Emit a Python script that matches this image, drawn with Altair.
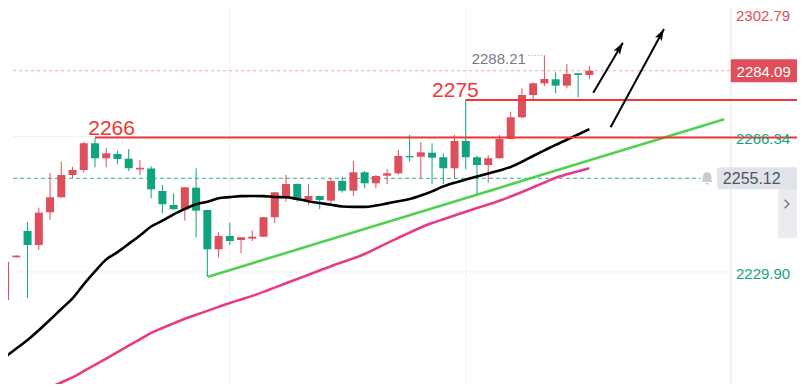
import math
import altair as alt
import pandas as pd

# ---------------- data ----------------
opens = [2222.35, 2233.85, 2240.93, 2237.16, 2245.97, 2250.01, 2256.01, 2257.36, 2264.55, 2260.51,
         2261.67, 2260.40, 2257.50, 2257.76, 2251.70, 2247.93, 2246.78, 2252.59, 2246.59, 2236.01,
         2239.59, 2238.51, 2238.86, 2239.40, 2244.62, 2250.22, 2253.59, 2249.28, 2250.36, 2249.09,
         2254.40, 2251.78, 2256.74, 2253.78, 2255.82, 2256.47, 2261.13, 2260.94, 2262.02, 2260.78,
         2257.82, 2265.17, 2260.78, 2258.70, 2260.51, 2265.70, 2271.55, 2277.55, 2280.70, 2281.78,
         2280.06, 2283.39, 2282.94]
closes = [2232.59, 2234.30, 2237.16, 2245.86, 2250.01, 2256.01, 2257.36, 2264.55, 2260.51, 2261.85,
          2260.32, 2257.82, 2257.95, 2252.16, 2248.12, 2246.78, 2252.70, 2246.40, 2236.01, 2239.59,
          2238.24, 2239.24, 2239.40, 2244.62, 2251.35, 2253.59, 2249.28, 2250.36, 2249.28, 2254.40,
          2251.78, 2256.74, 2253.78, 2255.74, 2256.47, 2261.13, 2260.78, 2262.12, 2260.67, 2257.82,
          2265.17, 2260.78, 2258.70, 2260.51, 2265.70, 2271.55, 2277.55, 2280.70, 2281.86, 2280.06,
          2283.21, 2282.94, 2284.09]
highs = [2236.09, 2234.40, 2243.36, 2247.21, 2256.55, 2259.59, 2258.17, 2264.98, 2265.90, 2263.36,
         2262.55, 2263.01, 2260.05, 2258.35, 2253.32, 2251.08, 2252.78, 2257.82, 2246.70, 2240.58,
         2243.17, 2239.32, 2241.01, 2244.70, 2251.45, 2256.01, 2253.78, 2253.59, 2250.45, 2255.12,
         2255.55, 2259.78, 2257.09, 2256.01, 2257.55, 2262.74, 2266.78, 2264.82, 2264.55, 2261.85,
         2266.78, 2276.30, 2261.21, 2261.40, 2266.78, 2273.05, 2279.36, 2280.97, 2288.21, 2283.66,
         2285.90, 2283.45, 2285.36]
lows = [2219.66, 2233.75, 2222.89, 2235.82, 2243.89, 2249.90, 2255.20, 2256.63, 2258.08, 2258.08,
        2258.97, 2257.09, 2256.01, 2249.74, 2245.70, 2246.72, 2243.71, 2239.24, 2228.55, 2233.75,
        2237.16, 2234.93, 2238.24, 2239.30, 2243.01, 2248.82, 2248.82, 2247.93, 2246.78, 2248.39,
        2251.25, 2250.36, 2252.43, 2252.43, 2253.59, 2256.01, 2259.59, 2255.20, 2253.59, 2253.59,
        2255.12, 2257.55, 2250.90, 2253.94, 2260.40, 2265.60, 2271.28, 2276.39, 2279.97, 2278.01,
        2279.36, 2276.93, 2281.78]

ma_black = [2207.01, 2209.27, 2211.56, 2214.22, 2217.02, 2219.93, 2222.78, 2226.56, 2230.05, 2233.29,
            2235.25, 2237.46, 2239.72, 2242.14, 2243.71, 2245.43, 2246.86, 2248.15, 2248.80, 2249.76,
            2250.06, 2250.33, 2250.36, 2250.33, 2250.09, 2250.03, 2249.55, 2248.96, 2248.47, 2248.01,
            2247.53, 2247.42, 2247.42, 2247.80, 2248.36, 2248.96, 2249.52, 2250.46, 2251.60, 2252.94,
            2253.94, 2254.77, 2255.61, 2256.44, 2257.25, 2258.17, 2259.57, 2261.13, 2262.63, 2264.11,
            2265.49, 2266.92, 2268.37]
pink_start = 3
ma_pink = [2197.48, 2198.80, 2200.14, 2201.51, 2203.18, 2204.88, 2206.58, 2208.30, 2210.05, 2211.77,
           2213.50, 2214.82, 2216.05, 2217.29, 2218.37, 2219.42, 2220.50, 2221.55, 2222.49, 2223.46,
           2224.53, 2225.69, 2226.85, 2228.01, 2229.14, 2230.30, 2231.46, 2232.51, 2233.56, 2234.74,
           2236.19, 2237.68, 2239.10, 2240.50, 2241.88, 2243.06, 2244.08, 2245.11, 2246.13, 2247.10,
           2248.07, 2249.06, 2250.22, 2251.43, 2252.70, 2253.99, 2255.28, 2256.20, 2257.01, 2257.82]

level_prices = [2266.08, 2276.20]
level_start = [8, 41]
level_text = ["2266", "2275"]
level_text_x = [7.4, 38.0]

trend_x = [18.07, 64.0]
trend_p = [2228.63, 2271.01]

arrow_x0 = [52.35, 53.89]
arrow_p0 = [2278.17, 2268.85]
arrow_x1 = [54.98, 58.64]
arrow_p1 = [2291.63, 2295.32]

axis_values = [2302.79, 2266.34, 2229.90]
axis_labels = ["2302.79", "2266.34", "2229.90"]
time_grid = [20, 41]

last_price = 2284.09
alert_price = 2255.12
high_mark = 2288.21

# ---------------- layout / style ----------------
W, H = 789, 376
X_DOM = [0.703, 70.036]
Y_DOM = [2199.733, 2300.972]
PANEL = 64.59      # left edge of the price-scale panel (index units)
RIGHT = 71.0
RED = "#dd4f5b"
GREEN = "#10a37f"
LEVEL_RED = "#f23535"
FONT = "Liberation Sans"

xs = alt.Scale(domain=X_DOM, nice=False, zero=False)
ys = alt.Scale(domain=Y_DOM, nice=False, zero=False)


def X(f):
    return alt.X(f, type="quantitative", scale=xs, axis=None)


def X2(f):
    return alt.X2(f)


def Y(f):
    return alt.Y(f, type="quantitative", scale=ys, axis=None)


px_i = W / (X_DOM[1] - X_DOM[0])
px_p = H / (Y_DOM[1] - Y_DOM[0])

n = len(opens)
candles = pd.DataFrame({
    "i": list(range(n)), "o": opens, "h": highs, "l": lows, "c": closes,
    "dir": ["up" if c >= o else "down" for o, c in zip(opens, closes)],
})
col = alt.Color("dir:N", scale=alt.Scale(domain=["up", "down"], range=[RED, GREEN]), legend=None)

layers = []

# grid
grid_h = pd.DataFrame({"p": axis_values, "x0": [X_DOM[0]] * 3, "x1": [PANEL] * 3})
layers.append(alt.Chart(grid_h).mark_rule(color="#f0f1f4", strokeWidth=1, clip=True).encode(
    x=X("x0"), x2=X2("x1"), y=Y("p")))
layers.append(alt.Chart(pd.DataFrame({"i": time_grid})).mark_rule(color="#f0f1f4", strokeWidth=1).encode(
    x=X("i")))
layers.append(alt.Chart(pd.DataFrame({"i": [PANEL]})).mark_rule(color="#e4e6eb", strokeWidth=1).encode(
    x=X("i")))

# scroll tab on the price panel
layers.append(alt.Chart(pd.DataFrame({"x0": [68.8], "x1": [71.0], "p0": [2257.36], "p1": [2239.05]}))
              .mark_rect(color="#ececf0").encode(x=X("x0"), x2=X2("x1"), y=Y("p0"), y2=alt.Y2("p1")))
layers.append(alt.Chart(pd.DataFrame({"i": [69.57], "p": [2248.2]})).mark_point(
    shape="M-0.35,-0.7 L0.35,0 L-0.35,0.7", filled=False, stroke="#787b86", strokeWidth=1.6, size=144,
    opacity=1).encode(x=X("i"), y=Y("p")))

# price lines (dashed)
layers.append(alt.Chart(pd.DataFrame({"x0": [X_DOM[0]], "x1": [PANEL], "p": [last_price]}))
              .mark_rule(color="#f3a6ad", strokeWidth=1, strokeDash=[3, 3]).encode(
    x=X("x0"), x2=X2("x1"), y=Y("p")))
layers.append(alt.Chart(pd.DataFrame({"x0": [X_DOM[0]], "x1": [61.9], "p": [alert_price]}))
              .mark_rule(color="#2bb096", strokeWidth=1, strokeDash=[4, 3]).encode(
    x=X("x0"), x2=X2("x1"), y=Y("p")))

# moving averages and trend line
pink_df = pd.DataFrame({"i": list(range(pink_start, pink_start + len(ma_pink))), "p": ma_pink})
layers.append(alt.Chart(pink_df).mark_line(color="#e83a86", strokeWidth=2.6, interpolate="monotone",
                                           clip=True).encode(x=X("i"), y=Y("p")))
black_df = pd.DataFrame({"i": list(range(n)), "p": ma_black})
layers.append(alt.Chart(pd.DataFrame({"i": trend_x, "p": trend_p})).mark_line(
    color="#4fd14f", strokeWidth=2.6).encode(x=X("i"), y=Y("p")))

# candles
layers.append(alt.Chart(candles).mark_rule(strokeWidth=1).encode(x=X("i"), y=Y("l"), y2=alt.Y2("h"), color=col))
layers.append(alt.Chart(candles).mark_bar(size=8).encode(x=X("i"), y=Y("o"), y2=alt.Y2("c"), color=col))

layers.append(alt.Chart(black_df).mark_line(color="#000000", strokeWidth=2.6, interpolate="monotone",
                                            clip=True).encode(x=X("i"), y=Y("p")))

# horizontal levels
lv = pd.DataFrame({"x0": level_start, "x1": [RIGHT] * 2, "p": level_prices,
                   "tx": level_text_x, "t": level_text})
layers.append(alt.Chart(lv).mark_rule(color=LEVEL_RED, strokeWidth=2, clip=True).encode(
    x=X("x0"), x2=X2("x1"), y=Y("p")))
layers.append(alt.Chart(lv).mark_text(align="left", baseline="alphabetic", dy=-3, fontSize=21,
                                      font=FONT, color=LEVEL_RED).encode(x=X("tx"), y=Y("p"), text="t:N"))

# highest-price marker
layers.append(alt.Chart(pd.DataFrame({"x0": [46.6], "x1": [48.0], "p": [high_mark]})).mark_rule(
    color="#9598a1", strokeWidth=1, strokeDash=[1, 2]).encode(x=X("x0"), x2=X2("x1"), y=Y("p")))
layers.append(alt.Chart(pd.DataFrame({"i": [46.35], "p": [high_mark], "t": [f"{high_mark:.2f}"]})).mark_text(
    align="right", baseline="middle", dy=4, fontSize=15, font=FONT, color="#787b86").encode(
    x=X("i"), y=Y("p"), text="t:N"))

# arrows
ang = [math.degrees(math.atan2((a1 - a0) * px_i, (b1 - b0) * px_p))
       for a0, a1, b0, b1 in zip(arrow_x0, arrow_x1, arrow_p0, arrow_p1)]
arr = pd.DataFrame({"x0": arrow_x0, "p0": arrow_p0, "x1": arrow_x1, "p1": arrow_p1, "ang": ang})
layers.append(alt.Chart(arr).mark_rule(color="#000000", strokeWidth=2).encode(
    x=X("x0"), x2=X2("x1"), y=Y("p0"), y2=alt.Y2("p1")))
layers.append(alt.Chart(arr).mark_point(
    shape="M0,0 L0.42,1.3 L0,1.0 L-0.42,1.3 Z", filled=True, color="#000000", size=330, opacity=1
).encode(x=X("x1"), y=Y("p1"), angle=alt.Angle("ang:Q", scale=None)))

# price tags
layers.append(alt.Chart(pd.DataFrame({"x0": [PANEL], "x1": [RIGHT], "p0": [last_price + 3.1],
                                      "p1": [last_price - 3.1]})).mark_rect(color=RED).encode(
    x=X("x0"), x2=X2("x1"), y=Y("p0"), y2=alt.Y2("p1")))
layers.append(alt.Chart(pd.DataFrame({"i": [65.1], "p": [last_price], "t": [f"{last_price:.2f}"]})).mark_text(
    align="left", baseline="middle", dy=1, fontSize=15, font=FONT, color="#ffffff").encode(
    x=X("i"), y=Y("p"), text="t:N"))

layers.append(alt.Chart(pd.DataFrame({"x0": [63.36], "x1": [RIGHT], "p0": [alert_price + 2.96],
                                      "p1": [alert_price - 2.96]})).mark_rect(
    color="#e1e3ea", cornerRadius=3).encode(x=X("x0"), x2=X2("x1"), y=Y("p0"), y2=alt.Y2("p1")))
layers.append(alt.Chart(pd.DataFrame({"i": [63.88], "p": [alert_price], "t": [f"{alert_price:.2f}"]})).mark_text(
    align="left", baseline="middle", dy=1, fontSize=16, font=FONT, color="#50535e").encode(
    x=X("i"), y=Y("p"), text="t:N"))
bell = ("M-0.7,0.45 L-0.55,0.3 L-0.55,-0.15 C-0.55,-0.55 -0.3,-0.75 0,-0.75 C0.3,-0.75 0.55,-0.55 "
        "0.55,-0.15 L0.55,0.3 L0.7,0.45 Z M-0.2,0.58 L0.2,0.58 C0.2,0.85 -0.2,0.85 -0.2,0.58 Z")
layers.append(alt.Chart(pd.DataFrame({"i": [62.48], "p": [alert_price]})).mark_point(
    shape=bell, filled=True, color="#c9cbd1", size=256, opacity=1).encode(x=X("i"), y=Y("p")))

# price-scale labels
ax = pd.DataFrame({"p": axis_values, "t": axis_labels, "c": [RED, GREEN, GREEN], "i": [65.05] * 3})
layers.append(alt.Chart(ax.iloc[1:]).mark_text(align="left", baseline="middle", dy=2, fontSize=15,
                                               font=FONT).encode(
    x=X("i"), y=Y("p"), text="t:N", color=alt.Color("c:N", scale=None)))
layers.append(alt.Chart(ax.iloc[:1]).mark_text(align="left", baseline="middle", dy=15, fontSize=15,
                                               font=FONT).encode(
    x=X("i"), y=Y("p"), text="t:N", color=alt.Color("c:N", scale=None)))

chart = alt.layer(*layers).properties(
    width=W, height=H, padding=0, autosize=alt.AutoSizeParams(type="none"), background="#ffffff"
).configure_view(stroke=None)

chart.save("out.html", embed_options={"renderer": "svg", "actions": False})
